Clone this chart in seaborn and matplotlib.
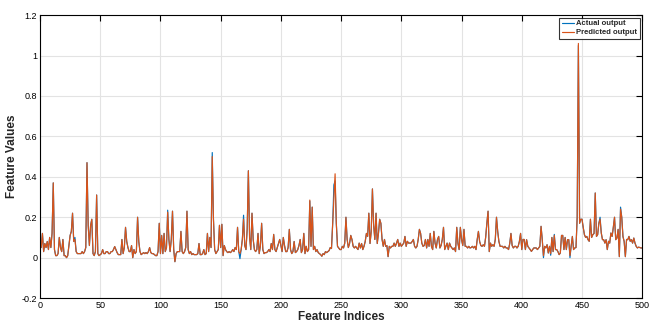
import numpy as np
import pandas as pd
import seaborn as sns
import matplotlib.pyplot as plt
from matplotlib.ticker import FuncFormatter

# valores (índices 0..500)
actual = [
    0.08, 0.05, 0.12, 0.03, 0.07, 0.05, 0.08, 0.04, 0.10, 0.05,
    0.12, 0.37, 0.04, 0.01, 0.01, 0.02, 0.10, 0.05, 0.03, 0.09,
    0.01, 0.01, 0.00, 0.01, 0.06, 0.11, 0.13, 0.22, 0.08, 0.10,
    0.03, 0.02, 0.02, 0.02, 0.02, 0.03, 0.02, 0.03, 0.05, 0.47,
    0.16, 0.06, 0.16, 0.19, 0.02, 0.01, 0.03, 0.31, 0.02, 0.01,
    0.015, 0.02, 0.04, 0.02, 0.02, 0.03, 0.03, 0.02, 0.02, 0.03,
    0.03, 0.04, 0.055, 0.04, 0.025, 0.015, 0.015, 0.015, 0.09, 0.02,
    0.05, 0.15, 0.08, 0.05, 0.03, 0.03, 0.06, 0.00, 0.04, 0.02,
    0.03, 0.20, 0.08, 0.03, 0.015, 0.02, 0.025, 0.02, 0.025, 0.02,
    0.03, 0.05, 0.025, 0.02, 0.02, 0.015, 0.01, 0.01, 0.03, 0.17,
    0.02, 0.11, 0.02, 0.12, 0.03, 0.05, 0.235, 0.09, 0.03, 0.09,
    0.23, 0.04, -0.02, 0.02, 0.03, 0.03, 0.03, 0.13, 0.03, 0.02,
    0.03, 0.05, 0.23, 0.04, 0.02, 0.03, 0.015, 0.02, 0.015, 0.015,
    0.015, 0.02, 0.07, 0.015, 0.015, 0.02, 0.04, 0.015, 0.02, 0.12,
    0.03, 0.10, 0.05, 0.52, 0.19, 0.04, 0.02, 0.03, 0.04, 0.16,
    0.05, 0.165, 0.01, 0.06, 0.04, 0.03, 0.025, 0.03, 0.025, 0.03,
    0.04, 0.03, 0.05, 0.04, 0.15, 0.03, -0.005, 0.04, 0.09, 0.21,
    0.06, 0.04, 0.14, 0.43, 0.10, 0.04, 0.22, 0.09, 0.04, 0.03,
    0.04, 0.12, 0.02, 0.06, 0.17, 0.04, 0.02, 0.025, 0.025, 0.03,
    0.04, 0.03, 0.07, 0.04, 0.115, 0.04, 0.03, 0.05, 0.07, 0.09,
    0.06, 0.03, 0.10, 0.06, 0.03, 0.03, 0.05, 0.14, 0.04, 0.02,
    0.03, 0.08, 0.025, 0.03, 0.04, 0.06, 0.09, 0.025, 0.04, 0.12,
    0.02, 0.056, 0.03, 0.04, 0.28, 0.056, 0.25, 0.04, 0.056, 0.03,
    0.04, 0.025, 0.02, 0.015, 0.007, 0.02, 0.015, 0.03, 0.025, 0.03,
    0.035, 0.05, 0.045, 0.17, 0.36, 0.38, 0.17, 0.056, 0.048, 0.04,
    0.04, 0.056, 0.048, 0.072, 0.20, 0.09, 0.05, 0.07, 0.11, 0.09,
    0.056, 0.048, 0.056, 0.048, 0.04, 0.072, 0.048, 0.07, 0.04, 0.056,
    0.08, 0.12, 0.105, 0.22, 0.07, 0.13, 0.34, 0.16, 0.09, 0.22,
    0.07, 0.12, 0.19, 0.17, 0.09, 0.056, 0.09, 0.056, 0.06, 0.005,
    0.056, 0.048, 0.056, 0.056, 0.072, 0.056, 0.072, 0.09, 0.056, 0.072,
    0.056, 0.064, 0.072, 0.105, 0.056, 0.081, 0.072, 0.072, 0.072, 0.08,
    0.09, 0.056, 0.048, 0.056, 0.09, 0.14, 0.12, 0.072, 0.056, 0.06,
    0.09, 0.048, 0.09, 0.056, 0.12, 0.056, 0.04, 0.13, 0.072, 0.048,
    0.09, 0.105, 0.048, 0.06, 0.09, 0.15, 0.04, 0.056, 0.072, 0.04,
    0.072, 0.056, 0.048, 0.04, 0.048, 0.03, 0.15, 0.07, 0.04, 0.15,
    0.09, 0.06, 0.14, 0.056, 0.056, 0.048, 0.056, 0.048, 0.05, 0.056,
    0.048, 0.056, 0.04, 0.09, 0.13, 0.08, 0.06, 0.056, 0.064, 0.056,
    0.10, 0.17, 0.23, 0.03, 0.072, 0.056, 0.064, 0.056, 0.09, 0.20,
    0.13, 0.08, 0.056, 0.056, 0.056, 0.048, 0.056, 0.048, 0.048, 0.04,
    0.07, 0.12, 0.06, 0.048, 0.056, 0.056, 0.048, 0.056, 0.08, 0.12,
    0.04, 0.09, 0.09, 0.04, 0.089, 0.056, 0.048, 0.04, 0.031, 0.04,
    0.048, 0.048, 0.048, 0.04, 0.048, 0.056, 0.155, 0.089, 0.0, 0.056,
    0.048, 0.064, 0.023, 0.056, 0.012, 0.10, 0.03, 0.115, 0.04, 0.04,
    0.03, 0.015, 0.023, 0.11, 0.11, 0.04, 0.10, 0.04, 0.089, 0.089,
    0.0, 0.056, 0.105, 0.04, 0.048, 0.05, 0.20, 1.05, 0.17, 0.19,
    0.19, 0.15, 0.114, 0.10, 0.105, 0.089, 0.081, 0.19, 0.10, 0.114,
    0.12, 0.32, 0.105, 0.114, 0.17, 0.20, 0.122, 0.089, 0.089, 0.072,
    0.089, 0.04, 0.081, 0.072, 0.122, 0.105, 0.15, 0.20, 0.089, 0.097,
    0.14, 0.005, 0.25, 0.20, 0.105, 0.08, 0.005, 0.09, 0.089, 0.105,
    0.081, 0.089, 0.072, 0.097, 0.072, 0.056, 0.048, 0.052, 0.05, 0.048,
    0.048,
]

# pontos onde a predição difere da saída real
pred_idx = [29, 106, 143, 166, 169, 224, 244, 245, 418, 424, 427, 440, 447, 465, 482]
pred_val = [0.09, 0.225, 0.50, 0.02, 0.19, 0.285, 0.30, 0.415, 0.01, 0.02, 0.11, 0.01, 1.06, 0.19, 0.24]

predicted = list(actual)
for i, v in zip(pred_idx, pred_val):
    predicted[i] = v

idx = np.arange(len(actual))
df = pd.concat([
    pd.DataFrame({"idx": idx, "valor": actual, "serie": "Actual output"}),
    pd.DataFrame({"idx": idx, "valor": predicted, "serie": "Predicted output"}),
])

sns.set_style("whitegrid")
plt.rcParams["font.family"] = ["Liberation Sans", "DejaVu Sans"]

fig = plt.figure(figsize=(6.56, 3.29), dpi=100)
ax = fig.add_axes([0.061, 0.094, 0.918, 0.86])

sns.lineplot(data=df, x="idx", y="valor", hue="serie",
             palette={"Actual output": "#0072BD", "Predicted output": "#D95319"},
             linewidth=0.85, ax=ax)

ax.set_xlim(0, 500)
ax.set_ylim(-0.2, 1.2)
ax.set_xticks(np.arange(0, 501, 50))
ax.set_yticks(np.arange(-0.2, 1.21, 0.2))
ax.yaxis.set_major_formatter(FuncFormatter(lambda v, p: f"{round(v, 1):g}"))
ax.tick_params(direction="in", length=4, width=0.8, labelsize=6.5,
               top=True, right=True, colors="black", pad=2)
for s in ax.spines.values():
    s.set_color("black")
    s.set_linewidth(0.8)
ax.grid(True, color="#e3e3e3", linewidth=0.8)

ax.set_xlabel("Feature Indices", fontsize=8.5, fontweight="bold", labelpad=1)
ax.set_ylabel("Feature Values", fontsize=8.5, fontweight="bold", labelpad=3)

leg = ax.legend(loc="upper right", fontsize=5.5, frameon=True, fancybox=False,
                handlelength=1.6, handletextpad=0.3, borderpad=0.3,
                labelspacing=0.2, borderaxespad=0.35)
leg.get_frame().set_edgecolor("black")
leg.get_frame().set_linewidth(0.8)
for t in leg.get_texts():
    t.set_fontweight("bold")

fig.savefig("out.png", dpi=100)
